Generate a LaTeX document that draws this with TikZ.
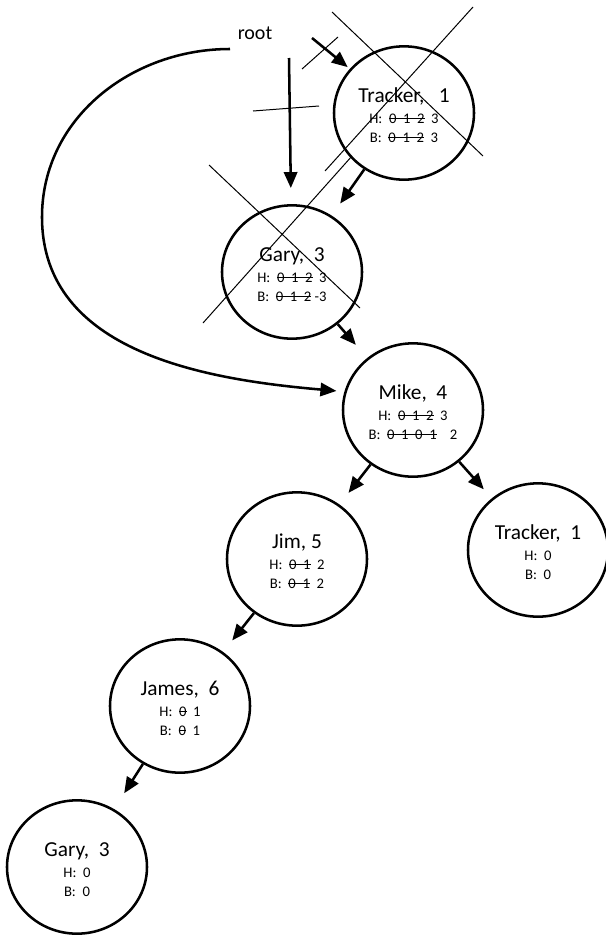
\documentclass[tikz,border=0pt]{standalone}
\usepackage{fontspec}
\setmainfont{Carlito}
\usetikzlibrary{shapes.geometric,arrows.meta}

\newcommand{\namefont}{\fontsize{16}{18}\selectfont\rule{0pt}{14.5pt}}
\newcommand{\hbfont}{\fontsize{11}{14.3}\selectfont}
% struck-out counts
\newcommand{\strk}[1]{\setbox0\hbox{#1}\rlap{\rule[0.3em]{\wd0}{0.6pt}}\box0}

\begin{document}
\begin{tikzpicture}[->,>={Triangle[length=12pt,width=10pt]}, x=0.75pt, y=-0.75pt,
                    person/.style={ellipse, minimum width=105pt, minimum height=100pt, inner sep=0pt, align=center, draw=black, line width=1.9pt, font=\hbfont},
                    link/.style={line width=1.9pt, shorten >=11pt},
                    scratch/.style={-, line width=0.75pt}]
        \useasboundingbox (0,0) rectangle (606,935);

        \node (Root) at (255,33) {\fontsize{15}{18}\selectfont root};
        \node (Tracker) [person] at (404,113) {{\namefont Tracker,~~~1}\\[1pt] H:~~\strk{0~~1~~2}~~3\\ B:~~\strk{0~~1~~2}~~3};
        \node (Gary) [person] at (292,272) {{\namefont Gary,~~3}\\[1pt] H:~~\strk{0~~1~~2}~~3\\ B:~~\strk{0~~1~~2}~-3};
        \node (Mike) [person] at (413,410) {{\namefont Mike,~~4}\\[1pt] H:~~\strk{0~~1~~2}~~3\\ B:~~\strk{0~~1~~0~~1}~~~~2};
        \node (TrackerLeaf) [person] at (538,550) {{\namefont Tracker,~~1}\\[1pt] H:~~0\\ B:~~0};
        \node (Jim) [person] at (297,559) {{\namefont Jim,~5}\\[1pt] H:~~\strk{0~~1}~~2\\ B:~~\strk{0~~1}~~2};
        \node (James) [person] at (180,706) {{\namefont James,~~6}\\[1pt] H:~~\strk{0}~~1\\ B:~~\strk{0}~~1};
        \node (GaryLeaf) [person] at (77,867) {{\namefont Gary,~~3}\\[1pt] H:~~0\\ B:~~0};

        \coordinate (RootA) at (312,38);
        \coordinate (RootB) at (289,58);
        \coordinate (LoopStart) at (230,49);
        \coordinate (LoopSide) at (42,217);

        \path[link]
        (RootA)
            edge[shorten >=2pt] (Tracker)
        (RootB)
            edge[shorten >=12pt] (Gary)
        (Tracker)
            edge (Gary)
        (Gary)
            edge[shorten >=13pt] (Mike)
        (Mike)
            edge (Jim)
            edge[shorten >=9pt] (TrackerLeaf)
        (Jim)
            edge (James)
        (James)
            edge[shorten >=14pt] (GaryLeaf)
        ;
        \draw[link, shorten >=6pt] (LoopStart) to[out=180,in=90] (LoopSide) to[out=-90,in=175] (Mike.165);

        % crossing out
        \draw[scratch] (332,12) -- (483,156);
        \draw[scratch] (473,7) -- (325,171);
        \draw[scratch] (302,69) -- (338,37);
        \draw[scratch] (253,111) -- (319,106);
        \draw[scratch] (209,165) -- (360,308);
        \draw[scratch] (203,323) -- (352,156);
\end{tikzpicture}
\end{document}
